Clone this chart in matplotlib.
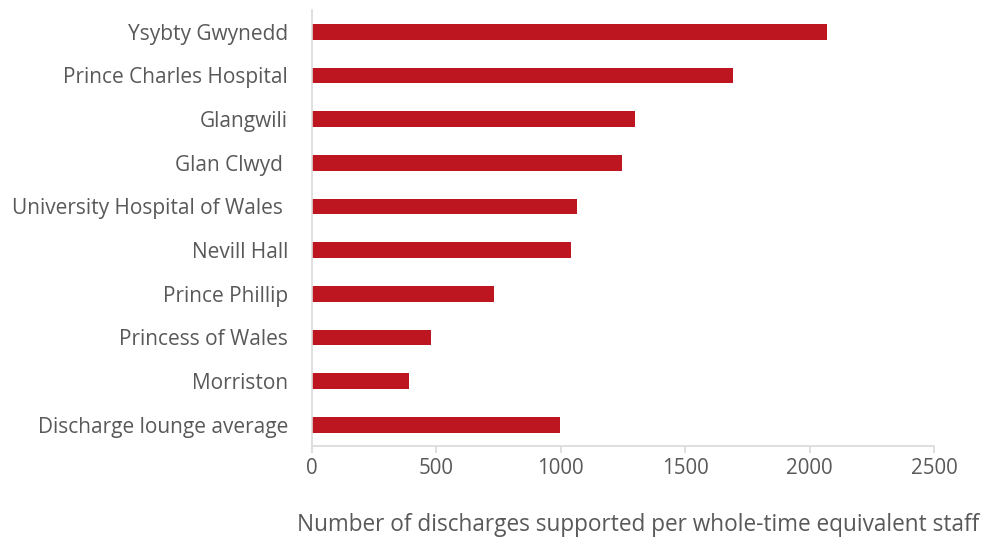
import matplotlib
matplotlib.use("Agg")
import matplotlib.pyplot as plt

hospitals = ["Ysybty Gwynedd", "Prince Charles Hospital", "Glangwili", "Glan Clwyd ",
             "University Hospital of Wales ", "Nevill Hall", "Prince Phillip",
             "Princess of Wales", "Morriston", "Discharge lounge average"]
discharges = [2070, 1691, 1297, 1247, 1065, 1041, 733, 481, 390, 998]
xticks = [0, 500, 1000, 1500, 2000, 2500]

plt.rcParams['font.family'] = ['Open Sans', 'DejaVu Sans']
grey = '#595959'

fig = plt.figure(figsize=(9.94, 5.42), dpi=100)
ax = fig.add_axes([0.3136, 0.1762, 0.9396 - 0.3136, 0.9815 - 0.1762])

ypos = list(range(len(hospitals)))
ax.barh(ypos, discharges, height=0.36, color='#BE1620')
ax.set_yticks(ypos)
ax.set_yticklabels(hospitals)
ax.set_ylim(len(hospitals) - 0.5, -0.5)
ax.set_xlim(0, 2500)
ax.set_xticks(xticks)

for s in ['top', 'right']:
    ax.spines[s].set_visible(False)
ax.spines['left'].set_color('#d9d9d9')
ax.spines['bottom'].set_color('#d9d9d9')
ax.spines['left'].set_linewidth(1.2)
ax.spines['bottom'].set_linewidth(1.2)

ax.tick_params(axis='y', length=0, pad=17, labelsize=15, labelcolor=grey)
ax.tick_params(axis='x', length=5, width=1.2, color='#d9d9d9', pad=3,
               labelsize=14.8, labelcolor=grey)
ax.set_xlabel("Number of discharges supported per whole-time equivalent staff",
              fontsize=16.3, color=grey)
ax.xaxis.set_label_coords(0.524, -0.152)

fig.savefig("out.png", dpi=100)
